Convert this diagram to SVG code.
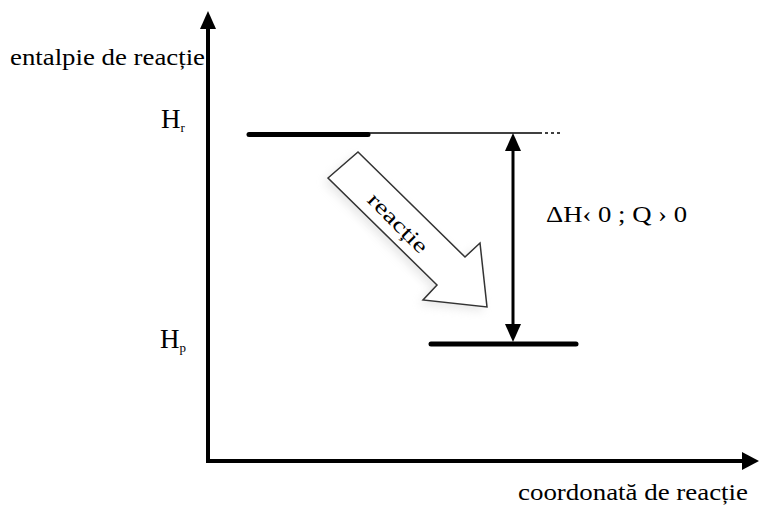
<svg xmlns="http://www.w3.org/2000/svg" width="760" height="507" viewBox="0 0 760 507">
<style>
  text { font-family: 'Liberation Serif', 'Times New Roman', 'DejaVu Serif', serif; fill: #000; }
  .axis { stroke: #000; stroke-width: 4; fill: none; }
  .lvl { stroke: #000; stroke-width: 5; stroke-linecap: round; fill: none; }
  .head { fill: #000; stroke: none; }
</style>
<defs>
  <filter id="soft" x="-20%" y="-20%" width="140%" height="140%">
    <feGaussianBlur stdDeviation="5"/>
  </filter>
</defs>
<rect width="760" height="507" fill="#fff"/>

<g id="connectors">
  <g id="y-axis">
    <line class="axis" x1="208" y1="463" x2="208" y2="26"/>
    <polygon class="head" points="208,11 200,29 216,29"/>
  </g>
  <g id="x-axis">
    <line class="axis" x1="206" y1="461" x2="744" y2="461"/>
    <polygon class="head" points="759,461 742,452 742,470"/>
  </g>
  <g id="delta-arrow">
    <line x1="513" y1="147" x2="513" y2="328" stroke="#000" stroke-width="3"/>
    <polygon class="head" points="513,133 505,151 521,151"/>
    <polygon class="head" points="513,342 505,324 521,324"/>
  </g>
</g>

<g id="level-reactants">
  <line class="lvl" x1="249" y1="134.5" x2="368" y2="134.5"/>
  <line x1="368" y1="133" x2="542" y2="133" stroke="#000" stroke-width="1.5"/>
  <line x1="545" y1="133" x2="563" y2="133" stroke="#000" stroke-width="1.5" stroke-dasharray="3,3"/>
</g>

<g id="level-products">
  <line class="lvl" x1="431" y1="344" x2="576" y2="344"/>
</g>

<g id="reaction-arrow">
  <polygon points="328,178 358,152 465,257 480,243 487,307 423,300 437,285" fill="#bbb" opacity="0.35" filter="url(#soft)" transform="translate(-4,4)"/>
  <polygon points="328,178 358,152 465,257 480,243 487,307 423,300 437,285" fill="#fff" stroke="#333" stroke-width="1.5" stroke-linejoin="miter"/>
  <text font-family="Liberation Serif, serif" font-size="21" text-anchor="middle" textLength="76" lengthAdjust="spacingAndGlyphs" transform="translate(398,223) rotate(45)" dy="7">reacție</text>
</g>

<g id="label-y">
  <text font-family="Liberation Serif, serif" x="10" y="65" font-size="23" textLength="195" lengthAdjust="spacingAndGlyphs">entalpie de reacție</text>
</g>

<g id="label-hr">
  <text font-family="Liberation Serif, serif" x="161" y="128" font-size="27">H<tspan font-size="13" dy="4">r</tspan></text>
</g>

<g id="label-hp">
  <text font-family="Liberation Serif, serif" x="160" y="348" font-size="27">H<tspan font-size="13" dy="4">p</tspan></text>
</g>

<g id="label-delta">
  <text font-family="Liberation Serif, serif" x="546" y="222" font-size="23" textLength="141" lengthAdjust="spacingAndGlyphs">ΔH‹ 0 ; Q › 0</text>
</g>

<g id="label-x">
  <text font-family="Liberation Serif, serif" x="518" y="500" font-size="23" textLength="230" lengthAdjust="spacingAndGlyphs">coordonată de reacție</text>
</g>
</svg>
